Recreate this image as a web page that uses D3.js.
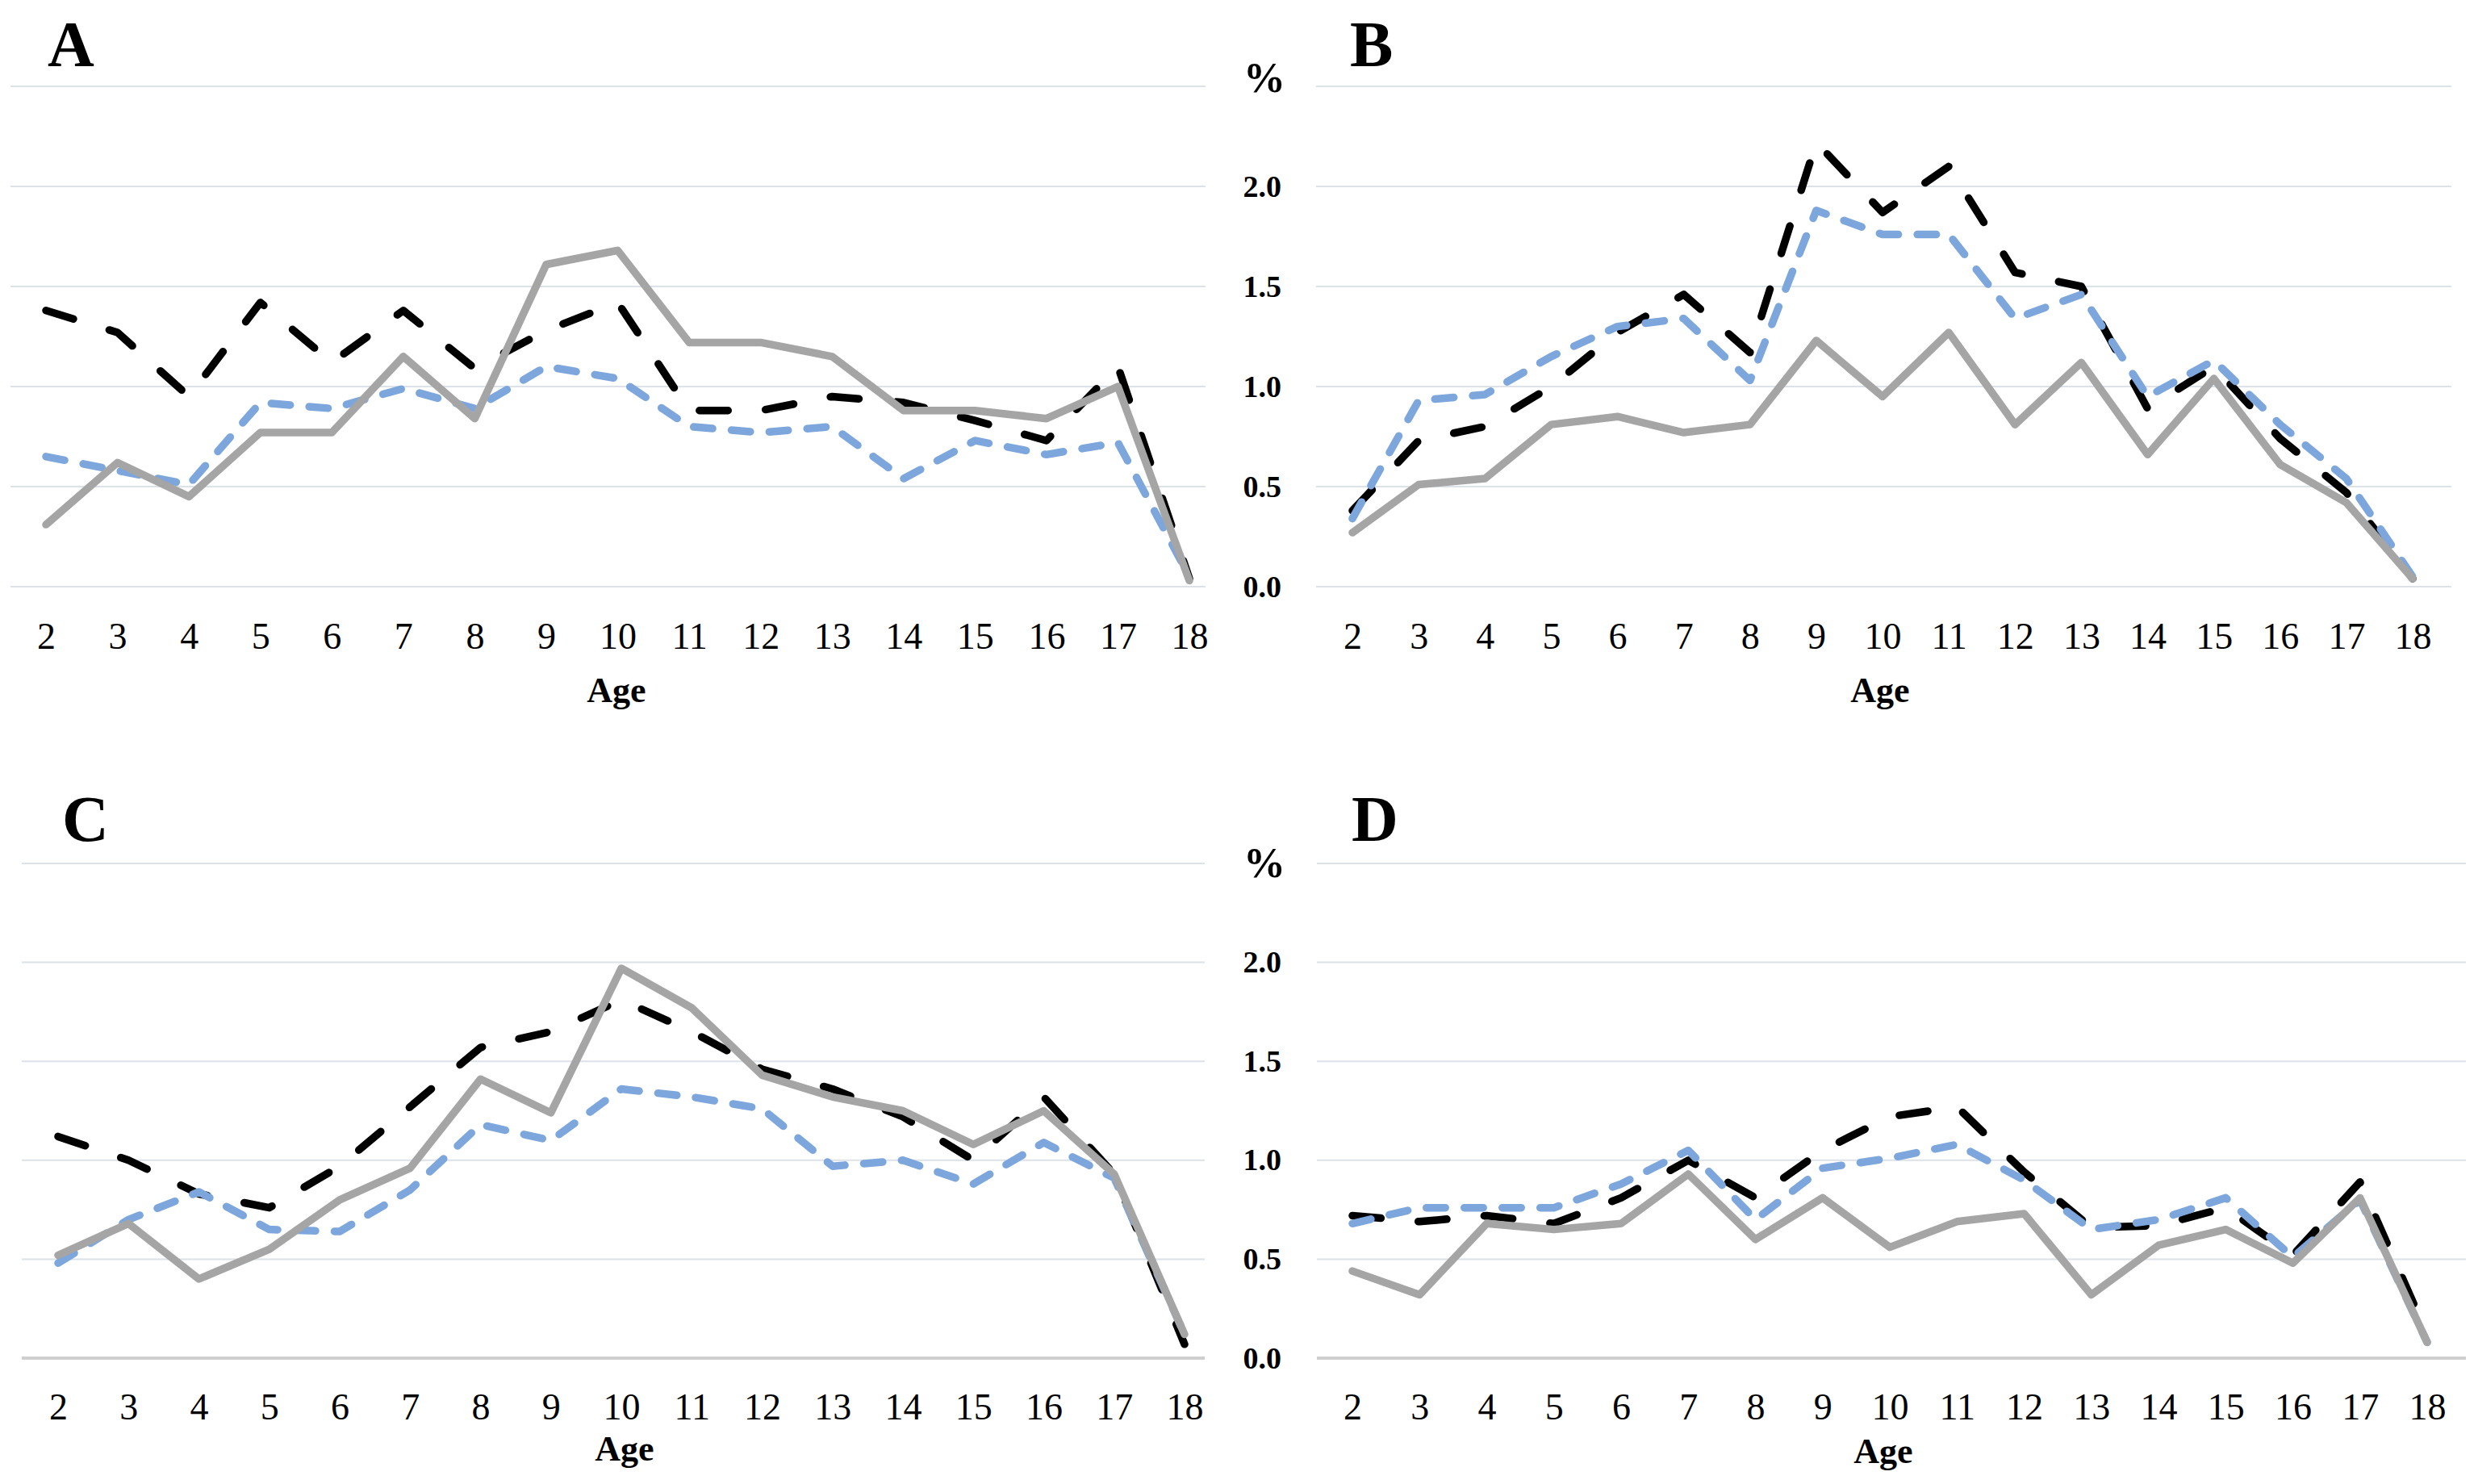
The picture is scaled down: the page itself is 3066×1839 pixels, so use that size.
<!DOCTYPE html>
<html>
<head>
<meta charset="utf-8">
<script src="https://cdn.jsdelivr.net/npm/d3@7"></script>
<style>
  html, body { margin: 0; padding: 0; background: #ffffff; }
  svg { display: block; }
</style>
</head>
<body>
<script>
// ---------------- DATA ----------------
const ages = [2, 3, 4, 5, 6, 7, 8, 9, 10, 11, 12, 13, 14, 15, 16, 17, 18];
const yTickValues = [0, 0.5, 1.0, 1.5, 2.0, 2.5];
const yTickLabels = ["0.0", "0.5", "1.0", "1.5", "2.0", "%"];
const panelLabels = ["A", "B", "C", "D"];
const xAxisTitle = "Age";

// Panel A
const A_black = [1.38, 1.27, 0.95, 1.42, 1.12, 1.38, 1.09, 1.28, 1.42, 0.88, 0.88, 0.95, 0.92, 0.83, 0.73, 1.10, 0.04];
const A_blue  = [0.65, 0.58, 0.51, 0.92, 0.89, 0.99, 0.89, 1.10, 1.04, 0.80, 0.77, 0.80, 0.54, 0.73, 0.66, 0.72, 0.05];
const A_gray  = [0.31, 0.62, 0.45, 0.77, 0.77, 1.15, 0.84, 1.61, 1.68, 1.22, 1.22, 1.15, 0.88, 0.88, 0.84, 1.00, 0.03];
// Panel B
const B_black = [0.38, 0.73, 0.80, 1.00, 1.27, 1.46, 1.17, 2.22, 1.87, 2.10, 1.57, 1.50, 0.89, 1.10, 0.74, 0.47, 0.04];
const B_blue  = [0.34, 0.93, 0.96, 1.15, 1.30, 1.34, 1.03, 1.88, 1.76, 1.76, 1.34, 1.46, 0.95, 1.13, 0.81, 0.54, 0.05];
const B_gray  = [0.27, 0.51, 0.54, 0.81, 0.85, 0.77, 0.81, 1.23, 0.95, 1.27, 0.81, 1.12, 0.66, 1.04, 0.61, 0.42, 0.04];
// Panel C
const C_black = [1.12, 1.00, 0.83, 0.76, 0.97, 1.27, 1.57, 1.65, 1.81, 1.65, 1.46, 1.36, 1.22, 1.00, 1.32, 0.93, 0.07];
const C_blue  = [0.48, 0.70, 0.84, 0.65, 0.64, 0.85, 1.18, 1.10, 1.36, 1.32, 1.26, 0.97, 1.00, 0.88, 1.09, 0.91, 0.12];
const C_gray  = [0.52, 0.68, 0.40, 0.55, 0.80, 0.96, 1.41, 1.24, 1.97, 1.77, 1.43, 1.32, 1.25, 1.08, 1.25, 0.93, 0.12];
// Panel D
const D_black = [0.72, 0.69, 0.72, 0.68, 0.81, 1.00, 0.81, 1.05, 1.22, 1.27, 0.94, 0.66, 0.67, 0.76, 0.52, 0.89, 0.12];
const D_blue  = [0.68, 0.76, 0.76, 0.76, 0.88, 1.05, 0.70, 0.96, 1.01, 1.08, 0.90, 0.65, 0.70, 0.81, 0.51, 0.80, 0.08];
const D_gray  = [0.44, 0.32, 0.68, 0.65, 0.68, 0.93, 0.60, 0.81, 0.56, 0.69, 0.73, 0.32, 0.57, 0.65, 0.48, 0.81, 0.08];

// ---------------- STYLE / LAYOUT ----------------
const W = 3066, H = 1839;
const seriesStyles = [
  { key: "black", color: "#000000", width: 9.5, dash: "35.5 46.5" },
  { key: "blue",  color: "#7DA7DC", width: 9.5, dash: "23.5 23.5" },
  { key: "gray",  color: "#A5A5A5", width: 9.5, dash: null }
];
const serif = "'Liberation Serif', 'Times New Roman', serif";

const panels = [
  { label: panelLabels[0], series: { black: A_black, blue: A_blue, gray: A_gray },
    grid: [13, 1494], xr: [57, 1474], yr: [727, 107], lab: [59, 82],
    yLabels: false, ageX: 764, tickY: 804, ageY: 870, axisLine: false },
  { label: panelLabels[1], series: { black: B_black, blue: B_blue, gray: B_gray },
    grid: [1631, 3038], xr: [1676, 2990], yr: [727, 107], lab: [1673, 82],
    yLabels: true, yLabX: 1588, pctDy: -10, ageX: 2330, tickY: 804, ageY: 870, axisLine: false },
  { label: panelLabels[2], series: { black: C_black, blue: C_blue, gray: C_gray },
    grid: [27, 1493], xr: [72, 1468], yr: [1683, 1070], lab: [77, 1042],
    yLabels: false, ageX: 774, tickY: 1759, ageY: 1810, axisLine: true },
  { label: panelLabels[3], series: { black: D_black, blue: D_blue, gray: D_gray },
    grid: [1632, 3056], xr: [1676, 3008], yr: [1683, 1070], lab: [1675, 1042],
    yLabels: true, yLabX: 1588, pctDy: 0, ageX: 2334, tickY: 1759, ageY: 1813, axisLine: true }
];

const svg = d3.select("body").append("svg")
  .attr("width", W).attr("height", H)
  .attr("viewBox", `0 0 ${W} ${H}`);
svg.append("rect").attr("width", W).attr("height", H).attr("fill", "#ffffff");

panels.forEach(p => {
  const g = svg.append("g");
  const x = d3.scalePoint().domain(ages).range(p.xr);
  const y = d3.scaleLinear().domain([0, 2.5]).range(p.yr);

  // gridlines
  g.append("g").selectAll("line").data(yTickValues).join("line")
    .attr("x1", p.grid[0]).attr("x2", p.grid[1])
    .attr("y1", d => y(d)).attr("y2", d => y(d))
    .attr("stroke", d => (d === 0 && p.axisLine) ? "#CFCFCF" : "#DCE2E8")
    .attr("stroke-width", d => (d === 0 && p.axisLine) ? 4 : 2);

  // x axis labels
  const xAxis = d3.axisBottom(x).tickSize(0).tickPadding(0);
  const xg = g.append("g").attr("transform", `translate(0,${p.tickY})`).call(xAxis);
  xg.select(".domain").remove();
  xg.selectAll("text")
    .attr("y", 0).attr("dy", 0)
    .attr("fill", "#000")
    .style("font-family", serif).style("font-size", "46px");

  // x axis title
  g.append("text").attr("x", p.ageX).attr("y", p.ageY)
    .attr("text-anchor", "middle")
    .style("font-family", serif).style("font-size", "44px").style("font-weight", "bold")
    .text(xAxisTitle);

  // y axis labels
  if (p.yLabels) {
    const yAxis = d3.axisLeft(y).tickValues(yTickValues).tickSize(0).tickPadding(0)
      .tickFormat((d, i) => yTickLabels[i]);
    const yg = g.append("g").attr("transform", `translate(${p.yLabX},0)`).call(yAxis);
    yg.select(".domain").remove();
    yg.selectAll("text")
      .attr("x", 0)
      .attr("fill", "#000")
      .style("font-family", serif).style("font-size", "38px").style("font-weight", "bold");
    yg.selectAll(".tick").filter(d => d === 2.5).select("text")
      .attr("x", 5).attr("y", p.pctDy)
      .style("font-size", "52px");
  }

  // panel letter
  g.append("text").attr("x", p.lab[0]).attr("y", p.lab[1])
    .style("font-family", serif).style("font-size", "80px").style("font-weight", "bold")
    .text(p.label);

  // series lines
  const line = d3.line().x((d, i) => x(ages[i])).y(d => y(d));
  seriesStyles.forEach(s => {
    g.append("path")
      .datum(p.series[s.key])
      .attr("d", line)
      .attr("fill", "none")
      .attr("stroke", s.color)
      .attr("stroke-width", s.width)
      .attr("stroke-linecap", "round")
      .attr("stroke-linejoin", "round")
      .attr("stroke-dasharray", s.dash);
  });
});
</script>
</body>
</html>
